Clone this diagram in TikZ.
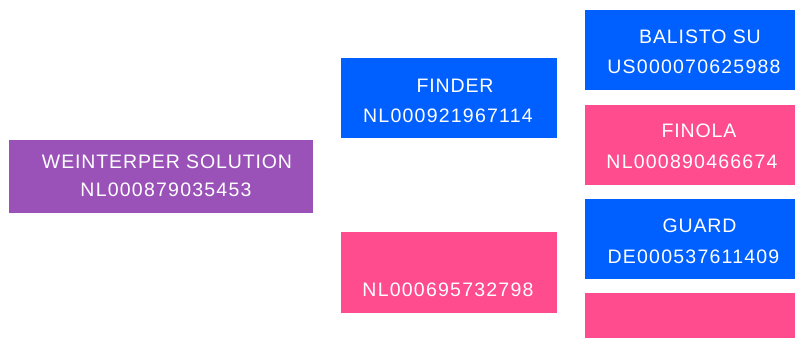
\documentclass[tikz,border=0pt]{standalone}
\usepackage{fontspec}
\setmainfont{Liberation Sans}[LetterSpace=4.5]
\definecolor{cpurple}{HTML}{9A52B8}
\definecolor{cblue}{HTML}{005FFF}
\definecolor{cpink}{HTML}{FF4C8F}
\begin{document}
\begin{tikzpicture}[x=1pt,y=-1pt,
  box/.style={inner sep=0pt, outer sep=0pt},
  lbl/.style={anchor=base, inner sep=0pt, text=white, font=\fontsize{19.5}{22}\selectfont},
  num/.style={lbl, font=\fontsize{19.5}{22}\selectfont\addfontfeatures{LetterSpace=6.3}}]
\useasboundingbox (0,0) rectangle (795,338);
% boxes
\fill[cpurple] (9,140) rectangle (313,213);
\node[box] (p) at (161,176.5) {};
\fill[cblue] (341,58) rectangle (557,138);
\node[box] (f) at (449,98) {};
\fill[cpink] (341,232) rectangle (557,313);
\node[box] (n) at (449,272) {};
\fill[cblue] (585,10) rectangle (795,90);
\node[box] (b) at (690,50) {};
\fill[cpink] (585,105) rectangle (795,185);
\node[box] (fi) at (690,145) {};
\fill[cblue] (585,199) rectangle (795,279);
\node[box] (g) at (690,239) {};
\fill[cpink] (585,293) rectangle (795,338);
\node[box] (e) at (690,315) {};
% texts
\node[lbl] (p1) at (167,168) {WEINTERPER SOLUTION};
\node[num] (p2) at (166,196) {NL000879035453};
\node[lbl] (f1) at (455,92) {FINDER};
\node[num] (f2) at (448,122) {NL000921967114};
\node[num] (n2) at (448,296) {NL000695732798};
\node[lbl] (b1) at (700,43) {BALISTO SU};
\node[num] (b2) at (694,73) {US000070625988};
\node[lbl] (fi1) at (699,137) {FINOLA};
\node[num] (fi2) at (692,168) {NL000890466674};
\node[lbl] (g1) at (699.5,232) {GUARD};
\node[num] (g2) at (693.5,263) {DE000537611409};
\end{tikzpicture}
\end{document}
